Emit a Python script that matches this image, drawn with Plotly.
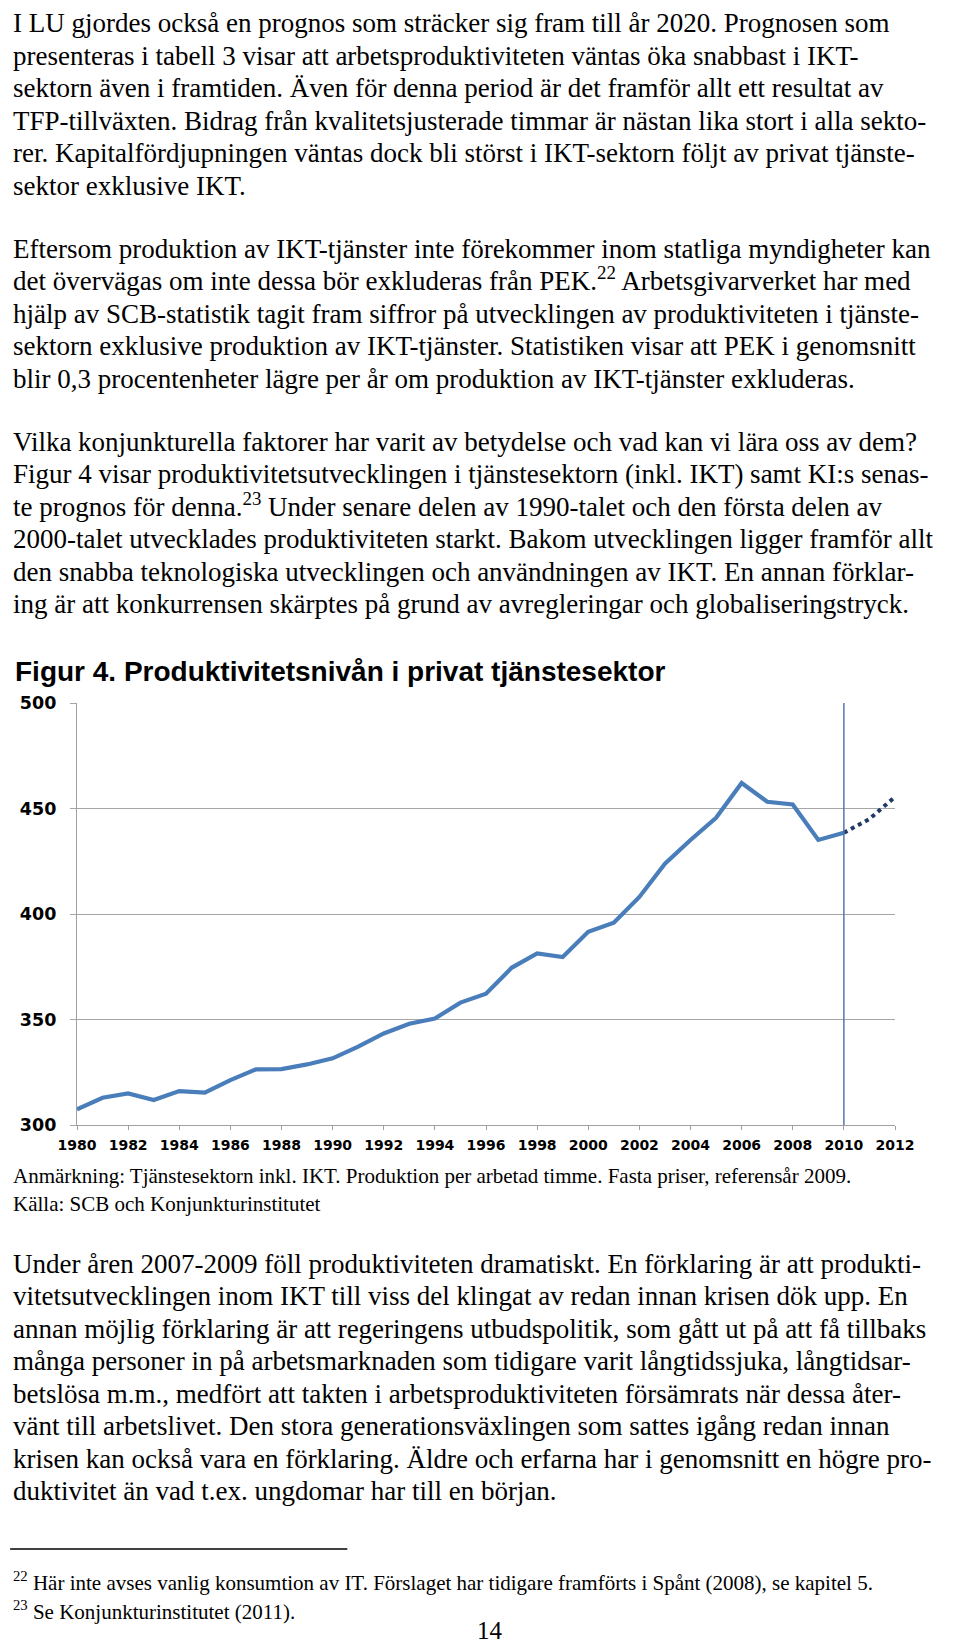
import plotly.graph_objects as go

# ---------------- data ----------------
years = list(range(1980, 2011))
productivity = [307.4, 312.9, 315.0, 311.8, 316.1, 315.3, 321.3, 326.4, 326.5, 328.7,
                331.6, 337.1, 343.4, 348.0, 350.5, 358.0, 362.2, 374.5, 381.3, 379.6,
                391.6, 395.9, 408.1, 423.8, 435.1, 445.6, 462.1, 453.2, 451.9, 435.1,
                438.5]
forecast_years = [2010, 2011, 2012]
forecast_values = [438.5, 445.0, 455.5]
forecast_start = 2010
x_ticks = list(range(1980, 2013, 2))
x_ticklabels = [str(v) for v in x_ticks]
y_ticks = [300, 350, 400, 450, 500]
y_ticklabels = [str(v) for v in y_ticks]

title_text = "Figur 4. Produktivitetsnivån i privat tjänstesektor"

para1 = [
    "I LU gjordes också en prognos som sträcker sig fram till år 2020. Prognosen som",
    "presenteras i tabell 3 visar att arbetsproduktiviteten väntas öka snabbast i IKT-",
    "sektorn även i framtiden. Även för denna period är det framför allt ett resultat av",
    "TFP-tillväxten. Bidrag från kvalitetsjusterade timmar är nästan lika stort i alla sekto-",
    "rer. Kapitalfördjupningen väntas dock bli störst i IKT-sektorn följt av privat tjänste-",
    "sektor exklusive IKT.",
]
para2 = [
    "Eftersom produktion av IKT-tjänster inte förekommer inom statliga myndigheter kan",
    "det övervägas om inte dessa bör exkluderas från PEK.<sup>22</sup> Arbetsgivarverket har med",
    "hjälp av SCB-statistik tagit fram siffror på utvecklingen av produktiviteten i tjänste-",
    "sektorn exklusive produktion av IKT-tjänster. Statistiken visar att PEK i genomsnitt",
    "blir 0,3 procentenheter lägre per år om produktion av IKT-tjänster exkluderas.",
]
para3 = [
    "Vilka konjunkturella faktorer har varit av betydelse och vad kan vi lära oss av dem?",
    "Figur 4 visar produktivitetsutvecklingen i tjänstesektorn (inkl. IKT) samt KI:s senas-",
    "te prognos för denna.<sup>23</sup> Under senare delen av 1990-talet och den första delen av",
    "2000-talet utvecklades produktiviteten starkt. Bakom utvecklingen ligger framför allt",
    "den snabba teknologiska utvecklingen och användningen av IKT. En annan förklar-",
    "ing är att konkurrensen skärptes på grund av avregleringar och globaliseringstryck.",
]
para4 = [
    "Under åren 2007-2009 föll produktiviteten dramatiskt. En förklaring är att produkti-",
    "vitetsutvecklingen inom IKT till viss del klingat av redan innan krisen dök upp. En",
    "annan möjlig förklaring är att regeringens utbudspolitik, som gått ut på att få tillbaks",
    "många personer in på arbetsmarknaden som tidigare varit långtidssjuka, långtidsar-",
    "betslösa m.m., medfört att takten i arbetsproduktiviteten försämrats när dessa åter-",
    "vänt till arbetslivet. Den stora generationsväxlingen som sattes igång redan innan",
    "krisen kan också vara en förklaring. Äldre och erfarna har i genomsnitt en högre pro-",
    "duktivitet än vad t.ex. ungdomar har till en början.",
]
note_text = "Anmärkning: Tjänstesektorn inkl. IKT. Produktion per arbetad timme. Fasta priser, referensår 2009."
source_text = "Källa: SCB och Konjunkturinstitutet"
footnotes = [
    "<sup>22</sup> Här inte avses vanlig konsumtion av IT. Förslaget har tidigare framförts i Spånt (2008), se kapitel 5.",
    "<sup>23</sup> Se Konjunkturinstitutet (2011).",
]
page_number = "14"

# ---------------- layout geometry ----------------
FIG_W, FIG_H = 960, 1646
L, R, T, B = 67, 73, 695, 529
PW = FIG_W - L - R
PH = FIG_H - T - B

SERIF = "Liberation Serif"
SANS = "Liberation Sans"
TICKFONT = "DejaVu Sans"

BODY = 27
LINE = 32.5


def px_x(px):
    return (px - L) / PW


def px_y(py):
    return 1 - (py - T) / PH


annotations = []


def add_line(text, x, baseline, size, family=SERIF, bold=False, anchor="left", descent=0.216):
    if bold:
        text = "<b>" + text + "</b>"
    annotations.append(dict(
        text=text, xref="paper", yref="paper",
        x=px_x(x), y=px_y(baseline + descent * size),
        xanchor=anchor, yanchor="bottom", showarrow=False,
        borderpad=0, borderwidth=0,
        font=dict(family=family, size=size, color="#000000"),
    ))


def add_paragraph(lines, first_baseline):
    for i, ln in enumerate(lines):
        add_line(ln, 3, first_baseline + i * LINE, BODY)


add_paragraph(para1, 24.5)
add_paragraph(para2, 250)
add_paragraph(para3, 443)
add_paragraph(para4, 1265)

add_line(title_text, 5, 673, 28, family=SANS, bold=True, descent=0.212)
add_line(note_text, 3, 1175, 21)
add_line(source_text, 3, 1203, 21)
add_line(footnotes[0], 3, 1582, 21)
add_line(footnotes[1], 3, 1611, 21)
add_line(page_number, 481, 1631, 25, anchor="center")

# ---------------- figure ----------------
fig = go.Figure()
fig.add_trace(go.Scatter(
    x=years, y=productivity, mode="lines",
    line=dict(color="#4A7EBB", width=4.2),
    hoverinfo="skip", showlegend=False,
))
fig.add_trace(go.Scatter(
    x=forecast_years, y=forecast_values, mode="lines",
    line=dict(color="#1F3B66", width=4, dash="dot"),
    hoverinfo="skip", showlegend=False,
))

shapes = [
    dict(type="line", xref="x", yref="paper", x0=forecast_start, x1=forecast_start,
         y0=0, y1=1, line=dict(color="#5476AE", width=1.5), layer="above"),
    dict(type="line", xref="paper", yref="paper", x0=px_x(0), x1=px_x(338),
         y0=px_y(1541), y1=px_y(1541), line=dict(color="#000000", width=1.6)),
]

fig.update_layout(
    width=FIG_W, height=FIG_H,
    margin=dict(l=L, r=R, t=T, b=B, pad=0),
    paper_bgcolor="white", plot_bgcolor="white",
    showlegend=False,
    annotations=annotations,
    shapes=shapes,
    xaxis=dict(
        range=[1980, 2012], tickmode="array", tickvals=x_ticks, ticktext=x_ticklabels,
        showgrid=False, zeroline=False, showline=True, linecolor="#A0A0A0", linewidth=1.2,
        ticks="outside", ticklen=4, tickcolor="#A0A0A0", tickwidth=1.2,
        tickfont=dict(family=TICKFONT, size=14, color="#000000", weight="bold"),
        ticklabelstandoff=3, fixedrange=True,
    ),
    yaxis=dict(
        range=[300, 500], tickmode="array", tickvals=y_ticks, ticktext=y_ticklabels,
        showgrid=True, gridcolor="#A6A6A6", gridwidth=1.2, zeroline=False,
        showline=True, linecolor="#A0A0A0", linewidth=1.2,
        ticks="outside", ticklen=6, tickcolor="#A6A6A6", tickwidth=1.2,
        tickfont=dict(family=TICKFONT, size=17.5, color="#000000", weight="bold"),
        ticklabelstandoff=10, fixedrange=True,
    ),
)

fig.write_html("out.html")
